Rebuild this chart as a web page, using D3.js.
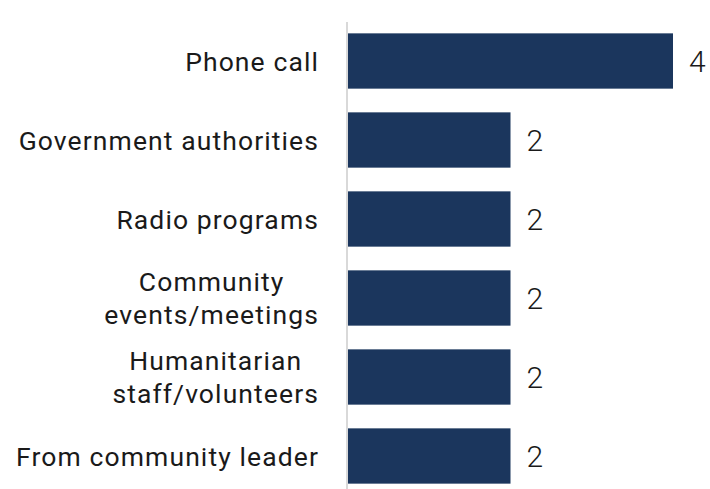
<!DOCTYPE html>
<html>
<head>
<meta charset="utf-8">
<script src="https://cdn.jsdelivr.net/npm/d3@7"></script>
<style>
  html, body { margin: 0; padding: 0; background: #ffffff; }
  svg { display: block; }
</style>
</head>
<body>
<svg id="chart" width="710" height="489"></svg>
<script>
// Information channels and their counts
const categories = [
  ["Phone call"],
  ["Government authorities"],
  ["Radio programs"],
  ["Community", "events/meetings"],
  ["Humanitarian", "staff/volunteers"],
  ["From community leader"]
];
const values = [4, 2, 2, 2, 2, 2];

const width = 710, height = 489;
const axisX = 347;
const labelRight = 318;
const fontFamily = "Roboto, 'Noto Sans', sans-serif";

const svg = d3.select("#chart");

const y = d3.scaleBand()
  .domain(d3.range(categories.length))
  .range([21.5, 21.5 + 79 * categories.length])
  .paddingInner(0.3)
  .paddingOuter(0.15);

const x = d3.scaleLinear()
  .domain([0, 4])
  .range([axisX + 1, 673]);

// Vertical category axis line
svg.append("line")
  .attr("x1", axisX).attr("x2", axisX)
  .attr("y1", 22).attr("y2", height)
  .attr("stroke", "#d9d9d9")
  .attr("stroke-width", 2);

// Bars
svg.selectAll("rect.bar")
  .data(values)
  .join("rect")
  .attr("class", "bar")
  .attr("x", x(0))
  .attr("y", (d, i) => y(i))
  .attr("width", d => x(d) - x(0))
  .attr("height", y.bandwidth())
  .attr("fill", "#1b365d");

// Value labels
svg.selectAll("text.value")
  .data(values)
  .join("text")
  .attr("class", "value")
  .attr("x", d => x(d) + 16)
  .attr("y", (d, i) => y(i) + y.bandwidth() / 2)
  .attr("dy", "0.36em")
  .attr("font-family", fontFamily)
  .attr("font-size", 30)
  .attr("font-weight", 300)
  .attr("fill", "#1a1a1a")
  .text(d => d);

// Category labels: single lines end at the label edge; wrapped labels
// are centred as a block whose widest line ends at the label edge
const labels = svg.selectAll("g.cat")
  .data(categories)
  .join("g")
  .attr("class", "cat")
  .attr("transform", (d, i) => `translate(0,${y(i) + y.bandwidth() / 2})`);

labels.each(function(lines) {
  const g = d3.select(this);
  const lh = 33;
  const start = -(lines.length - 1) * lh / 2;
  const texts = lines.map((ln, k) => g.append("text")
    .attr("font-family", fontFamily)
    .attr("font-size", 26.5)
    .attr("letter-spacing", 1.1)
    .attr("fill", "#1a1a1a")
    .attr("y", start + k * lh)
    .attr("dy", "0.36em")
    .text(ln));
  if (lines.length === 1) {
    texts[0].attr("text-anchor", "end").attr("x", labelRight + 1);
  } else {
    const maxW = d3.max(texts, t => t.node().getComputedTextLength());
    texts.forEach(t => t.attr("text-anchor", "middle").attr("x", labelRight + 1 - maxW / 2));
  }
});
</script>
</body>
</html>
